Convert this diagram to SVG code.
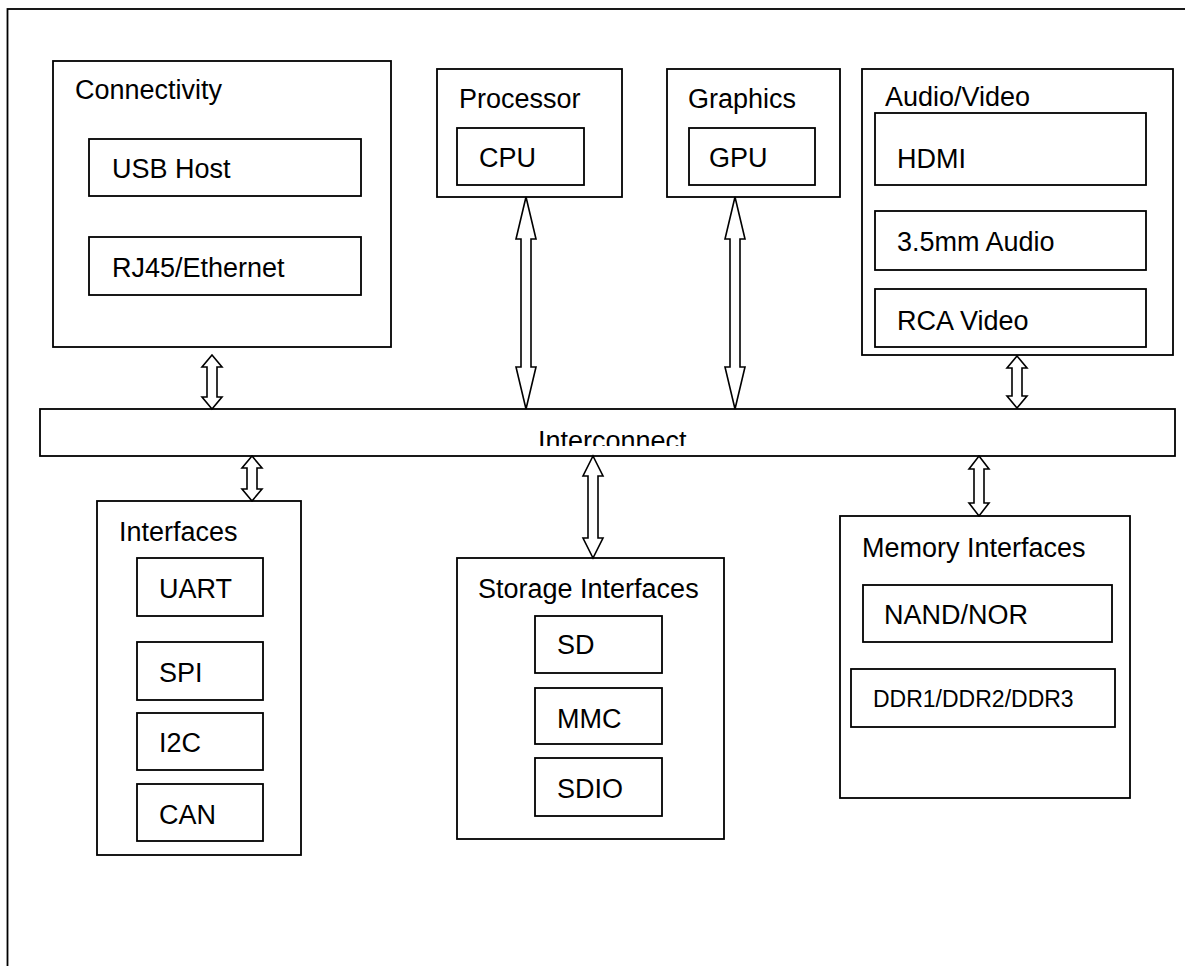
<svg xmlns="http://www.w3.org/2000/svg" width="1185" height="966" viewBox="0 0 1185 966">
<style>
.box{fill:#fff;stroke:#000;stroke-width:1.8}
.t{font-family:"Liberation Sans",Arial,sans-serif;font-size:27px;fill:#000}
.s{font-family:"Liberation Sans",Arial,sans-serif;font-size:23px;fill:#000}
.arr{fill:#fff;stroke:#000;stroke-width:1.6;stroke-linejoin:miter}
</style>
<defs>
<clipPath id="icClip"><rect x="40" y="409" width="1135" height="37"/></clipPath>
</defs>
<rect x="0" y="0" width="1185" height="966" fill="#fff"/>
<rect id="frame" x="7.5" y="9" width="1200" height="1000" fill="none" stroke="#000" stroke-width="1.8"/>

<g id="connectivity">
<rect class="box" x="53" y="61" width="338" height="286"/>
<text class="t" x="75" y="99">Connectivity</text>
<rect class="box" x="89" y="139" width="272" height="57"/>
<text class="t" x="112" y="178">USB Host</text>
<rect class="box" x="89" y="237" width="272" height="58"/>
<text class="t" x="112" y="277">RJ45/Ethernet</text>
</g>

<g id="processor">
<rect class="box" x="437" y="69" width="185" height="128"/>
<text class="t" x="459" y="108">Processor</text>
<rect class="box" x="457" y="128" width="127" height="57"/>
<text class="t" x="479" y="167">CPU</text>
</g>

<g id="graphics">
<rect class="box" x="667" y="69" width="173" height="128"/>
<text class="t" x="688" y="108">Graphics</text>
<rect class="box" x="689" y="128" width="126" height="57"/>
<text class="t" x="709" y="167">GPU</text>
</g>

<g id="audiovideo">
<rect class="box" x="862" y="69" width="311" height="286"/>
<text class="t" x="885" y="106">Audio/Video</text>
<rect class="box" x="875" y="113" width="271" height="72"/>
<text class="t" x="897" y="168">HDMI</text>
<rect class="box" x="875" y="211" width="271" height="59"/>
<text class="t" x="897" y="251">3.5mm Audio</text>
<rect class="box" x="875" y="289" width="271" height="58"/>
<text class="t" x="897" y="330">RCA Video</text>
</g>

<g id="interconnect">
<rect class="box" x="40" y="409" width="1135" height="47"/>
<text class="t" x="538" y="450" clip-path="url(#icClip)">Interconnect</text>
</g>

<g id="interfaces">
<rect class="box" x="97" y="501" width="204" height="354"/>
<text class="t" x="119" y="541">Interfaces</text>
<rect class="box" x="137" y="558" width="126" height="58"/>
<text class="t" x="159" y="598">UART</text>
<rect class="box" x="137" y="642" width="126" height="58"/>
<text class="t" x="159" y="682">SPI</text>
<rect class="box" x="137" y="713" width="126" height="57"/>
<text class="t" x="159" y="752">I2C</text>
<rect class="box" x="137" y="784" width="126" height="57"/>
<text class="t" x="159" y="824">CAN</text>
</g>

<g id="storage">
<rect class="box" x="457" y="558" width="267" height="281"/>
<text class="t" x="478" y="598">Storage Interfaces</text>
<rect class="box" x="535" y="616" width="127" height="57"/>
<text class="t" x="557" y="654">SD</text>
<rect class="box" x="535" y="688" width="127" height="56"/>
<text class="t" x="557" y="728">MMC</text>
<rect class="box" x="535" y="758" width="127" height="58"/>
<text class="t" x="557" y="798">SDIO</text>
</g>

<g id="memory">
<rect class="box" x="840" y="516" width="290" height="282"/>
<text class="t" x="862" y="557">Memory Interfaces</text>
<rect class="box" x="863" y="585" width="249" height="57"/>
<text class="t" x="884" y="624">NAND/NOR</text>
<rect class="box" x="851" y="669" width="264" height="58"/>
<text class="s" x="873" y="707">DDR1/DDR2/DDR3</text>
</g>

<g id="connectors">
<polygon class="arr" points="212,355 222,367 217,367 217,397 222,397 212,409 202,397 207,397 207,367 202,367"/>
<polygon class="arr" points="526,197 536,239 531,239 531,367 536,367 526,409 516,367 521,367 521,239 516,239"/>
<polygon class="arr" points="735,197 745,239 740,239 740,367 745,367 735,409 725,367 730,367 730,239 725,239"/>
<polygon class="arr" points="1017,356 1027,368 1022,368 1022,396 1027,396 1017,408 1007,396 1012,396 1012,368 1007,368"/>
<polygon class="arr" points="252,456 262,468 257,468 257,489 262,489 252,501 242,489 247,489 247,468 242,468"/>
<polygon class="arr" points="593,456 603,476 598,476 598,538 603,538 593,558 583,538 588,538 588,476 583,476"/>
<polygon class="arr" points="979,456 989,469 984,469 984,503 989,503 979,516 969,503 974,503 974,469 969,469"/>
</g>
</svg>
